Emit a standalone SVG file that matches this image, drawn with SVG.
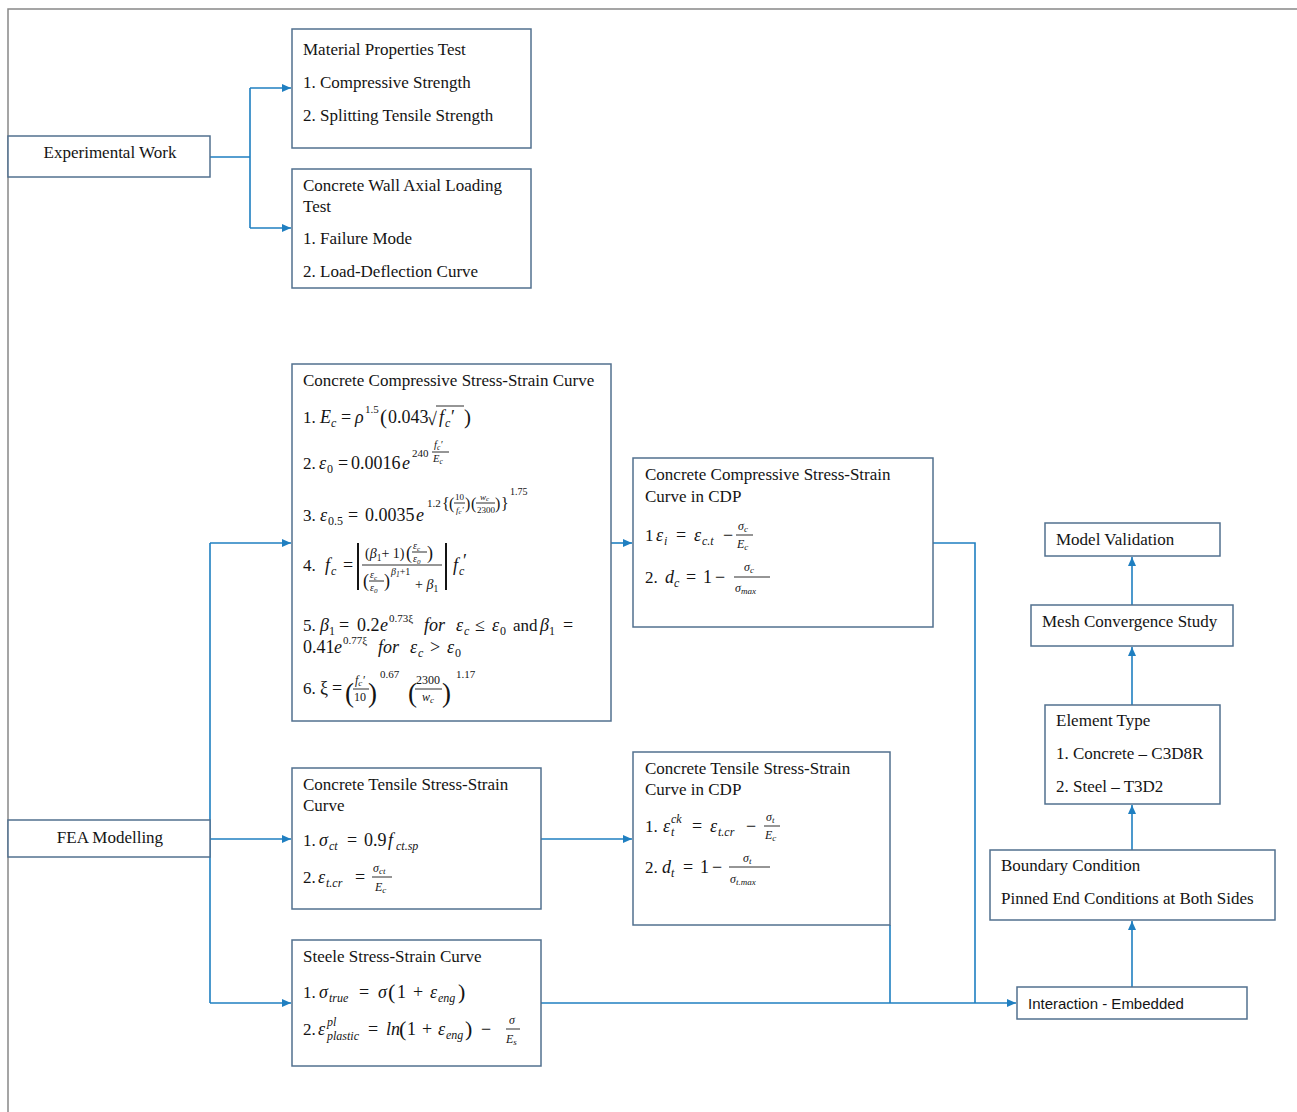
<svg xmlns="http://www.w3.org/2000/svg" width="1297" height="1112" viewBox="0 0 1297 1112" font-family="'Liberation Serif','Times New Roman',serif" font-size="17">
<style>
.box{fill:#fff;stroke:#52708f;stroke-width:1.5}
.frame{fill:none;stroke:#888;stroke-width:1.5}
.c{fill:none;stroke:#1f7fc1;stroke-width:1.6}
text{fill:#141414}
.sans{font-family:"Liberation Sans",Arial,sans-serif;font-size:15px}
.mi{font-style:italic}
.m{font-size:18px}
.s{font-size:12px}
.f{font-size:12px}
.bar{stroke:#141414;stroke-width:0.9}
</style>
<defs>
<marker id="ah" markerUnits="userSpaceOnUse" markerWidth="10" markerHeight="10" refX="9" refY="4" orient="auto">
<path d="M0,0 L9,4 L0,8 Z" fill="#1f7fc1"/>
</marker>
</defs>
<path class="frame" d="M8,1112 V9 H1297"/>

<g id="connectors">
<path class="c" d="M210,157 H250 M250,88 V228"/>
<path class="c" d="M250,88 H291" marker-end="url(#ah)"/>
<path class="c" d="M250,228 H291" marker-end="url(#ah)"/>
<path class="c" d="M210,543 V1003"/>
<path class="c" d="M210,543 H291" marker-end="url(#ah)"/>
<path class="c" d="M210,839 H291" marker-end="url(#ah)"/>
<path class="c" d="M210,1003 H291" marker-end="url(#ah)"/>
<path class="c" d="M611,543 H632" marker-end="url(#ah)"/>
<path class="c" d="M541,839 H632" marker-end="url(#ah)"/>
<path class="c" d="M933,543 H975 V1003"/>
<path class="c" d="M890,925 V1003"/>
<path class="c" d="M541,1003 H1016" marker-end="url(#ah)"/>
<path class="c" d="M1132,987 V921" marker-end="url(#ah)"/>
<path class="c" d="M1132,850 V805" marker-end="url(#ah)"/>
<path class="c" d="M1132,705 V647" marker-end="url(#ah)"/>
<path class="c" d="M1132,605 V557" marker-end="url(#ah)"/>
</g>

<g id="experimental-work">
<rect class="box" x="8" y="136" width="202" height="41"/>
<text x="110" y="158" text-anchor="middle">Experimental Work</text>
</g>

<g id="material-properties">
<rect class="box" x="292" y="29" width="239" height="119"/>
<text x="303" y="55">Material Properties Test</text>
<text x="303" y="88">1. Compressive Strength</text>
<text x="303" y="121">2. Splitting Tensile Strength</text>
</g>

<g id="wall-test">
<rect class="box" x="292" y="169" width="239" height="119"/>
<text x="303" y="191">Concrete Wall Axial Loading</text>
<text x="303" y="212">Test</text>
<text x="303" y="244">1. Failure Mode</text>
<text x="303" y="277">2. Load-Deflection Curve</text>
</g>

<g id="fea-modelling">
<rect class="box" x="8" y="820" width="202" height="37"/>
<text x="110" y="843" text-anchor="middle">FEA Modelling</text>
</g>

<g id="compressive-curve">
<rect class="box" x="292" y="364" width="319" height="357"/>
<text x="303" y="386">Concrete Compressive Stress-Strain Curve</text>
<!-- 1 -->
<text x="303" y="423">1.</text>
<text class="m mi" x="320" y="423">E</text>
<text class="s mi" x="331" y="427">c</text>
<text class="m" x="341" y="423">=</text>
<text class="m mi" x="355" y="423">ρ</text>
<text font-size="11" x="365" y="413">1.5</text>
<text font-size="21" x="380" y="424">(</text>
<text class="m" x="388" y="423">0.043</text>
<text class="m" x="427" y="425">√</text>
<path class="bar" d="M436,406 H464"/>
<text class="m mi" x="439" y="423">f</text>
<text class="s mi" x="445" y="427">c</text>
<text class="m" x="451" y="423">′</text>
<text font-size="21" x="464" y="424">)</text>
<!-- 2 -->
<text x="303" y="469">2.</text>
<text class="m mi" x="319" y="469">ε</text>
<text class="s" x="327" y="473">0</text>
<text class="m" x="338" y="469">=</text>
<text class="m" x="351" y="469">0.0016</text>
<text class="m mi" x="402" y="469">e</text>
<text font-size="11" x="412" y="457">240</text>
<text font-size="10.5" class="mi" x="434" y="448">f<tspan font-size="7.5" dy="2">c</tspan><tspan dy="-2">′</tspan></text>
<path class="bar" d="M432,452 H449"/>
<text font-size="10.5" class="mi" x="433" y="462">E<tspan font-size="7.5" dy="2">c</tspan></text>
<!-- 3 -->
<text x="303" y="521">3.</text>
<text class="m mi" x="320" y="521">ε</text>
<text class="s" x="328" y="525">0.5</text>
<text class="m" x="348" y="521">=</text>
<text class="m" x="365" y="521">0.0035</text>
<text class="m mi" x="416" y="521">e</text>
<text font-size="11" x="427" y="507">1.2</text>
<text font-size="16" x="442" y="509">{</text>
<text font-size="16" x="449" y="509">(</text>
<text font-size="9" x="455" y="500">10</text>
<path class="bar" d="M454,503 H465"/>
<text font-size="9" class="mi" x="456" y="513">f<tspan font-size="7" dy="1">c</tspan><tspan dy="-1">′</tspan></text>
<text font-size="16" x="465" y="509">)</text>
<text font-size="16" x="471" y="509">(</text>
<text font-size="9" class="mi" x="480" y="500">w<tspan font-size="7" dy="1">c</tspan></text>
<path class="bar" d="M476,503 H495"/>
<text font-size="9" x="477" y="513">2300</text>
<text font-size="16" x="495" y="509">)</text>
<text font-size="16" x="501" y="509">}</text>
<text font-size="10" x="510" y="495">1.75</text>
<!-- 4 -->
<text x="303" y="571">4.</text>
<text class="m mi" x="325" y="571">f</text>
<text class="s mi" x="331" y="575">c</text>
<text class="m" x="343" y="571">=</text>
<path d="M358,543 V590 M446,543 V590" stroke="#141414" stroke-width="2"/>
<text font-size="14" x="365" y="558">(<tspan class="mi">β</tspan><tspan font-size="9.5" dy="3">1</tspan><tspan dy="-3">+ 1)</tspan></text>
<text font-size="18" x="406" y="559">(</text>
<text font-size="10" class="mi" x="413" y="549">ε<tspan font-size="7" dy="2">c</tspan></text>
<path class="bar" d="M412,552 H427"/>
<text font-size="10" class="mi" x="413" y="562">ε<tspan font-size="7" dy="2">0</tspan></text>
<text font-size="18" x="427" y="559">)</text>
<path class="bar" d="M362,565 H442"/>
<text font-size="18" x="363" y="587">(</text>
<text font-size="10" class="mi" x="370" y="578">ε<tspan font-size="7" dy="2">c</tspan></text>
<path class="bar" d="M369,581 H384"/>
<text font-size="10" class="mi" x="370" y="591">ε<tspan font-size="7" dy="2">0</tspan></text>
<text font-size="18" x="384" y="587">)</text>
<text font-size="10" class="mi" x="391" y="575">β<tspan font-size="7.5" dy="2">1</tspan><tspan dy="-2" font-style="normal">+1</tspan></text>
<text font-size="14" x="415" y="589">+ <tspan class="mi">β</tspan><tspan font-size="9.5" dy="3">1</tspan></text>
<text class="m mi" x="453" y="571">f</text>
<text class="s mi" x="459" y="575">c</text>
<text class="m" x="463" y="567">′</text>
<!-- 5 -->
<text x="303" y="631">5.</text>
<text class="m mi" x="320" y="631">β</text>
<text class="s" x="329" y="635">1</text>
<text class="m" x="339" y="631">=</text>
<text class="m" x="357" y="631">0.2</text>
<text class="m mi" x="380" y="631">e</text>
<text font-size="11" x="389" y="622">0.73ξ</text>
<text class="m mi" x="424" y="631">for</text>
<text class="m mi" x="456" y="631">ε</text>
<text class="s mi" x="464" y="635">c</text>
<text class="m" x="475" y="631">≤</text>
<text class="m mi" x="492" y="631">ε</text>
<text class="s" x="500" y="635">0</text>
<text x="513" y="631">and</text>
<text class="m mi" x="540" y="631">β</text>
<text class="s" x="549" y="635">1</text>
<text class="m" x="563" y="631">=</text>
<text class="m" x="303" y="653">0.41</text>
<text class="m mi" x="334" y="653">e</text>
<text font-size="11" x="343" y="644">0.77ξ</text>
<text class="m mi" x="378" y="653">for</text>
<text class="m mi" x="410" y="653">ε</text>
<text class="s mi" x="418" y="657">c</text>
<text class="m" x="430" y="653">&gt;</text>
<text class="m mi" x="447" y="653">ε</text>
<text class="s" x="455" y="657">0</text>
<!-- 6 -->
<text x="303" y="694">6.</text>
<text class="m" x="320" y="694">ξ</text>
<text class="m" x="332" y="694">=</text>
<text font-size="27" x="345" y="702">(</text>
<text class="f mi" x="355" y="684">f<tspan font-size="9" dy="2">c</tspan><tspan dy="-2">′</tspan></text>
<path class="bar" d="M353,689 H369"/>
<text class="f" x="354" y="701">10</text>
<text font-size="27" x="368" y="702">)</text>
<text font-size="11" x="380" y="678">0.67</text>
<text font-size="27" x="408" y="702">(</text>
<text class="f" x="416" y="684">2300</text>
<path class="bar" d="M415,689 H442"/>
<text class="f mi" x="422" y="701">w<tspan font-size="9" dy="2">c</tspan></text>
<text font-size="27" x="442" y="702">)</text>
<text font-size="11" x="456" y="678">1.17</text>
</g>

<g id="compressive-cdp">
<rect class="box" x="633" y="458" width="300" height="169"/>
<text x="645" y="480">Concrete Compressive Stress-Strain</text>
<text x="645" y="502">Curve in CDP</text>
<text x="645" y="541">1</text>
<text class="m mi" x="656" y="541">ε</text>
<text class="s mi" x="664" y="545">i</text>
<text class="m" x="676" y="541">=</text>
<text class="m mi" x="694" y="541">ε</text>
<text class="s mi" x="702" y="545">c.t</text>
<text class="m" x="723" y="541">−</text>
<text class="f mi" x="738" y="530">σ<tspan font-size="9" dy="2">c</tspan></text>
<path class="bar" d="M736,535 H753"/>
<text class="f mi" x="737" y="548">E<tspan font-size="9" dy="2">c</tspan></text>
<text x="645" y="583">2.</text>
<text class="m mi" x="665" y="583">d</text>
<text class="s mi" x="674" y="587">c</text>
<text class="m" x="686" y="583">=</text>
<text class="m" x="703" y="583">1</text>
<text class="m" x="715" y="583">−</text>
<text class="f mi" x="744" y="571">σ<tspan font-size="9" dy="2">c</tspan></text>
<path class="bar" d="M734,577 H770"/>
<text class="f mi" x="735" y="592">σ<tspan font-size="9" dy="2">max</tspan></text>
</g>

<g id="tensile-curve">
<rect class="box" x="292" y="768" width="249" height="141"/>
<text x="303" y="790">Concrete Tensile Stress-Strain</text>
<text x="303" y="811">Curve</text>
<text x="303" y="846">1.</text>
<text class="m mi" x="319" y="846">σ</text>
<text class="s mi" x="329" y="850">ct</text>
<text class="m" x="347" y="846">=</text>
<text class="m" x="364" y="846">0.9</text>
<text class="m mi" x="388" y="846">f</text>
<text class="s mi" x="396" y="850">ct.sp</text>
<text x="303" y="883">2.</text>
<text class="m mi" x="318" y="883">ε</text>
<text class="s mi" x="326" y="887">t.cr</text>
<text class="m" x="355" y="883">=</text>
<text class="f mi" x="373" y="872">σ<tspan font-size="9" dy="2">ct</tspan></text>
<path class="bar" d="M372,877 H392"/>
<text class="f mi" x="375" y="891">E<tspan font-size="9" dy="2">c</tspan></text>
</g>

<g id="tensile-cdp">
<rect class="box" x="633" y="752" width="257" height="173"/>
<text x="645" y="774">Concrete Tensile Stress-Strain</text>
<text x="645" y="795">Curve in CDP</text>
<text x="645" y="832">1.</text>
<text class="m mi" x="663" y="832">ε</text>
<text class="s mi" x="671" y="836">t</text>
<text class="s mi" x="671" y="823">ck</text>
<text class="m" x="692" y="832">=</text>
<text class="m mi" x="710" y="832">ε</text>
<text class="s mi" x="718" y="836">t.cr</text>
<text class="m" x="746" y="832">−</text>
<text class="f mi" x="766" y="821">σ<tspan font-size="9" dy="2">t</tspan></text>
<path class="bar" d="M764,826 H780"/>
<text class="f mi" x="765" y="839">E<tspan font-size="9" dy="2">c</tspan></text>
<text x="645" y="873">2.</text>
<text class="m mi" x="662" y="873">d</text>
<text class="s mi" x="671" y="877">t</text>
<text class="m" x="683" y="873">=</text>
<text class="m" x="700" y="873">1</text>
<text class="m" x="712" y="873">−</text>
<text class="f mi" x="743" y="862">σ<tspan font-size="9" dy="2">t</tspan></text>
<path class="bar" d="M729,867 H770"/>
<text class="f mi" x="730" y="883">σ<tspan font-size="9" dy="2">t.max</tspan></text>
</g>

<g id="steel-curve">
<rect class="box" x="292" y="940" width="249" height="126"/>
<text x="303" y="962">Steele Stress-Strain Curve</text>
<text x="303" y="998">1.</text>
<text class="m mi" x="319" y="998">σ</text>
<text class="s mi" x="329" y="1002">true</text>
<text class="m" x="359" y="998">=</text>
<text class="m mi" x="378" y="998">σ</text>
<text font-size="22" x="388" y="999">(</text>
<text class="m" x="397" y="998">1</text>
<text class="m" x="413" y="998">+</text>
<text class="m mi" x="430" y="998">ε</text>
<text class="s mi" x="438" y="1002">eng</text>
<text font-size="22" x="458" y="999">)</text>
<text x="303" y="1035">2.</text>
<text class="m mi" x="318" y="1035">ε</text>
<text class="s mi" x="327" y="1026">pl</text>
<text class="s mi" x="327" y="1040">plastic</text>
<text class="m" x="368" y="1035">=</text>
<text class="m mi" x="386" y="1035">ln</text>
<text font-size="22" x="399" y="1036">(</text>
<text class="m" x="407" y="1035">1</text>
<text class="m" x="422" y="1035">+</text>
<text class="m mi" x="438" y="1035">ε</text>
<text class="s mi" x="446" y="1039">eng</text>
<text font-size="22" x="465" y="1036">)</text>
<text class="m" x="481" y="1035">−</text>
<text class="f mi" x="509" y="1024">σ</text>
<path class="bar" d="M506,1029 H520"/>
<text class="f mi" x="506" y="1043">E<tspan font-size="9" dy="2">s</tspan></text>
</g>

<g id="interaction">
<rect class="box" x="1017" y="987" width="230" height="32"/>
<text class="sans" x="1028" y="1009">Interaction - Embedded</text>
</g>

<g id="boundary-condition">
<rect class="box" x="990" y="850" width="285" height="70"/>
<text x="1001" y="871">Boundary Condition</text>
<text x="1001" y="904">Pinned End Conditions at Both Sides</text>
</g>

<g id="element-type">
<rect class="box" x="1045" y="705" width="175" height="99"/>
<text x="1056" y="726">Element Type</text>
<text x="1056" y="759">1. Concrete – C3D8R</text>
<text x="1056" y="792">2. Steel – T3D2</text>
</g>

<g id="mesh-convergence">
<rect class="box" x="1031" y="605" width="202" height="41"/>
<text x="1042" y="627">Mesh Convergence Study</text>
</g>

<g id="model-validation">
<rect class="box" x="1045" y="523" width="175" height="33"/>
<text x="1056" y="545">Model Validation</text>
</g>
</svg>
